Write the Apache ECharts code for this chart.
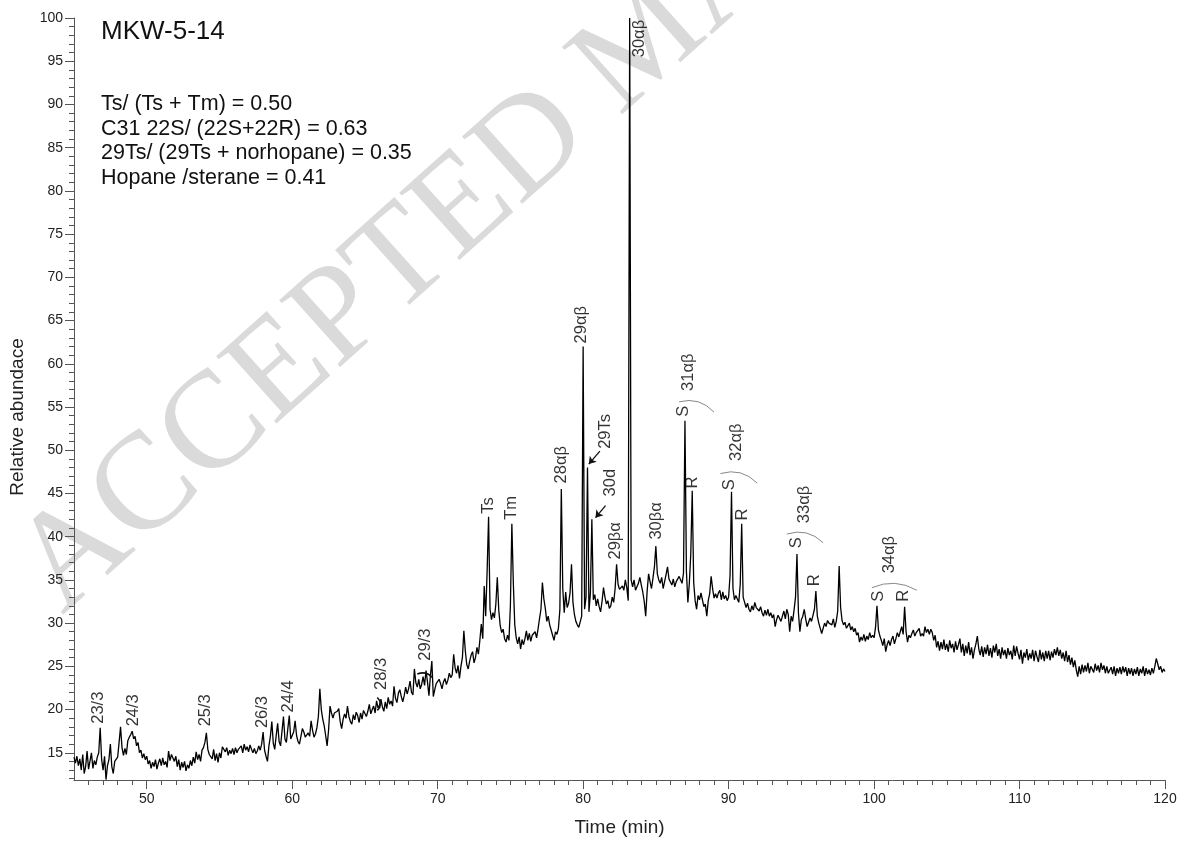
<!DOCTYPE html>
<html><head><meta charset="utf-8">
<script src="https://cdn.jsdelivr.net/npm/echarts@6/dist/echarts.min.js"></script>
<style>html,body{margin:0;padding:0;background:#fff}#c{width:1189px;height:842px}</style>
</head><body><div id="c"></div>
<script>
// Chromatogram sampling: first retention time and step (min)
const startTime = 45.0;
const sampleStep = 0.1;
// Relative abundance, one row per minute (45.0 ... 120.0)
const abundance = [
14.5,13.8,14.6,13.5,14.3,13.0,14.8,12.6,13.4,15.2,
13.1,12.9,15.0,13.2,14.1,13.6,14.5,15.0,17.9,14.2,
13.0,14.6,11.9,13.5,14.2,16.0,13.4,12.6,14.0,13.8,
14.5,16.2,18.0,15.6,14.7,15.5,14.8,16.4,16.8,17.1,
17.5,16.6,16.9,15.8,16.2,15.0,15.3,14.4,14.9,14.2,
14.6,13.7,14.1,13.2,13.9,13.4,14.2,13.1,13.8,14.3,
13.5,14.4,13.6,14.0,13.3,15.2,14.1,14.8,15.0,14.0,
14.6,13.4,14.2,13.0,13.9,13.3,14.0,12.9,13.6,13.2,
14.1,13.5,14.5,13.8,15.1,14.2,14.8,14.0,15.3,15.6,
16.2,17.3,15.4,14.8,15.0,14.3,15.4,14.1,14.9,13.9,
15.0,14.4,15.7,15.9,15.1,15.6,14.7,15.3,14.9,15.5,
14.8,15.6,15.0,15.4,15.2,15.8,15.0,16.0,15.3,15.7,
15.1,15.9,15.4,15.0,15.5,14.9,15.2,15.8,15.3,16.0,
17.4,15.3,14.6,14.0,15.8,16.9,18.6,16.1,15.4,17.0,
18.4,16.3,15.8,17.5,19.2,16.6,16.2,17.8,19.3,16.6,
16.6,17.4,18.7,17.0,16.3,16.0,16.9,17.8,17.4,16.8,
17.0,17.3,16.9,18.7,17.6,16.8,17.2,17.9,19.2,22.4,
20.0,18.9,18.1,17.0,15.8,17.6,20.4,19.6,19.0,19.6,
19.4,19.8,20.1,18.6,17.8,18.9,19.5,19.0,20.4,19.2,
18.6,18.3,19.4,18.8,19.7,19.3,18.5,19.6,18.9,19.9,
20.1,19.2,19.8,20.6,19.5,20.0,20.4,19.6,21.0,20.2,
20.5,21.2,20.3,19.8,20.9,20.1,21.4,20.6,21.0,20.4,
22.7,21.3,20.8,21.9,22.3,21.5,20.9,21.6,22.6,21.8,
22.4,23.3,22.0,21.7,24.7,23.1,22.6,23.5,22.4,22.9,
23.8,22.8,24.5,23.2,21.6,23.9,25.6,21.5,22.3,23.0,
22.8,23.5,23.0,22.4,23.2,23.6,22.9,23.4,24.2,23.7,
24.0,26.4,24.8,24.2,25.1,23.6,25.0,26.0,29.1,26.8,
25.2,24.7,25.6,26.3,26.7,25.4,26.0,27.2,26.4,28.0,
29.9,28.2,34.3,30.8,36.0,42.3,31.6,30.4,31.2,30.6,
32.2,35.3,31.5,29.7,28.9,29.3,28.2,27.8,28.6,28.0,
32.0,41.5,34.7,29.8,28.3,27.6,28.4,27.0,28.1,27.5,
28.2,29.1,28.0,28.8,27.9,28.6,28.5,29.0,28.3,29.3,
30.5,31.6,34.7,32.8,31.7,30.2,30.8,29.8,29.2,28.6,
28.0,29.0,28.7,29.4,31.5,45.5,34.0,31.2,33.6,31.8,
32.3,33.5,36.8,32.4,31.0,30.2,29.8,29.5,29.3,30.8,
62.0,31.6,33.0,48.0,31.3,33.5,42.0,32.7,33.3,32.0,
32.8,31.9,31.3,32.5,34.1,33.0,32.2,32.6,31.7,32.0,
33.0,32.4,34.0,36.8,34.5,33.9,33.7,34.3,33.8,35.0,
34.1,32.6,100.0,35.0,34.2,35.0,33.8,34.0,34.6,35.3,
34.4,33.6,32.5,30.8,33.7,35.7,34.8,34.0,35.2,36.5,
38.9,35.7,35.0,34.6,35.3,34.0,34.8,35.6,36.5,35.1,
34.9,34.4,35.1,34.2,34.8,34.7,35.4,35.3,34.6,35.8,
53.4,36.0,32.4,34.6,38.0,45.3,34.7,32.6,31.6,33.2,
32.7,33.5,32.7,31.9,32.2,30.8,32.6,33.4,35.4,34.0,
32.9,33.4,32.9,33.5,33.8,32.7,33.6,32.8,33.2,32.6,
33.0,35.5,45.2,34.0,32.7,33.2,32.8,32.4,34.5,41.5,
33.0,32.4,31.8,32.3,31.6,31.3,32.0,31.5,32.4,31.8,
32.0,31.4,31.9,31.2,30.8,31.5,30.9,31.6,30.8,31.2,
30.6,31.0,29.6,30.4,30.9,31.0,30.2,30.8,31.4,30.5,
31.6,31.0,29.0,30.8,30.2,31.5,33.0,38.0,31.2,29.0,
30.4,30.8,31.6,30.5,29.6,29.6,30.6,30.2,30.9,31.6,
33.7,30.8,30.0,29.8,28.8,29.4,30.0,29.6,30.3,30.0,
30.2,29.8,30.5,29.5,30.2,31.4,36.6,31.8,30.3,29.8,
30.1,29.4,29.5,30.0,29.2,29.6,29.0,29.4,28.6,28.9,
27.8,28.4,28.0,28.7,27.9,28.5,28.1,28.9,28.3,28.6,
28.3,29.5,32.0,29.2,28.5,28.0,27.4,28.2,26.7,27.5,
28.0,27.4,28.1,28.5,27.6,28.2,28.9,28.4,29.0,29.6,
28.7,31.9,29.0,27.8,28.6,28.3,28.8,29.2,28.5,28.9,
28.9,29.4,28.5,28.8,28.5,29.6,28.9,29.3,28.7,29.3,
28.9,28.0,28.6,27.2,27.9,26.8,27.8,27.0,28.1,26.9,
27.6,26.7,28.0,27.1,27.6,26.6,27.9,26.9,27.5,28.2,
26.6,27.6,26.2,27.4,26.5,27.8,26.3,27.2,25.9,26.9,
27.6,28.5,27.0,26.3,27.3,26.1,27.2,26.4,27.5,26.2,
27.1,26.0,27.4,26.6,27.6,26.2,27.0,25.9,27.2,26.3,
26.9,25.9,27.1,26.3,26.8,25.8,27.4,26.2,27.3,26.5,
25.8,26.9,25.3,26.6,26.0,27.0,25.7,26.5,25.9,26.9,
25.6,26.8,26.1,25.5,26.9,25.8,26.6,25.6,26.8,25.9,
26.8,25.7,26.7,26.0,27.0,26.3,27.2,26.2,26.9,25.9,
26.6,25.6,26.8,25.5,26.3,25.2,26.0,24.9,25.7,24.6,
23.8,25.0,24.1,25.2,24.3,25.1,24.4,25.4,24.2,25.0,
25.2,24.3,25.3,24.5,25.1,24.3,25.4,24.6,25.1,24.2,
25.0,24.2,24.0,24.9,24.1,25.0,23.9,24.8,24.2,24.9,
24.1,25.0,24.3,24.9,23.9,24.8,24.1,24.8,23.9,24.7,
24.1,24.9,23.9,24.7,24.2,25.0,23.9,24.8,24.1,24.6,
24.0,24.8,24.2,25.0,25.9,25.3,24.6,25.0,24.3,24.7,
24.4
];
// Axis ticks
const xTickLabels = [50, 60, 70, 80, 90, 100, 110, 120];
const yTickLabels = [15, 20, 25, 30, 35, 40, 45, 50, 55, 60, 65, 70, 75, 80, 85, 90, 95, 100];
// Peak annotations: text, time, abundance where the text starts
const peakNames = ["23/3","24/3","25/3","26/3","24/4","28/3","29/3","Ts","Tm","28αβ","29αβ","29Ts","30d","29βα","30αβ","30βα","S","31αβ","R","S","32αβ","R","S","33αβ","R","S","34αβ","R"];
const peakTimes = [46.72,49.12,54.1,58.0,59.77,66.2,69.2,73.5,75.13,78.56,79.94,81.54,81.88,82.29,83.94,85.09,86.92,87.26,87.53,90.12,90.58,90.99,94.7,95.27,95.96,100.31,101.11,102.03];
const peakLevels = [18.3,18.0,18.0,17.8,19.6,22.2,25.6,42.6,41.9,46.1,62.3,50.1,44.6,37.3,95.4,39.6,53.8,56.8,45.5,45.3,48.7,41.8,38.6,41.5,34.2,32.4,35.7,32.4];
// Arrows [fromTime, fromValue, toTime, toValue]
const arrowLinks = [[81.15,49.9,80.39,48.4],[81.54,43.6,80.85,42.2]];
// S/R bracket arcs [t1, v1, t2, v2, curveness]
const grayArcs = [[86.6,55.6,89.0,54.4,0.3],[89.44,47.3,91.96,46.2,0.3],[94.0,40.3,96.5,39.3,0.3],[99.85,34.1,102.94,33.8,0.25]];
const blackArcs = [[65.85,21.4,65.85,19.9,0.5],[68.6,24.1,69.64,23.7,0.35]];
const sampleName = "MKW-5-14";
const ratioLines = ["Ts/ (Ts + Tm) = 0.50","C31 22S/ (22S+22R) = 0.63","29Ts/ (29Ts + norhopane) = 0.35","Hopane /sterane = 0.41"];

const FONT = '"Liberation Sans", Arial, sans-serif';
const trace = abundance.map((v, i) => [+(startTime + i * sampleStep).toFixed(2), v]);
const xMinor = []; for (let t = 46; t < 120; t++) if (t % 10) xMinor.push(t);
const yMinor = []; for (let t = 12; t < 100; t++) if (t % 5) yMinor.push(t);

const chart = echarts.init(document.getElementById('c'), null, {renderer: 'canvas'});
const axisGray = '#555';
const baseX = {type: 'value', min: 45, max: 120, position: 'bottom', splitLine: {show: false}};
const baseY = {type: 'value', min: 11.85, max: 100, position: 'left', splitLine: {show: false}};
chart.setOption({
  animation: false,
  backgroundColor: '#fff',
  grid: {left: 74, right: 24, top: 18, bottom: 61, containLabel: false},
  xAxis: [
    Object.assign({}, baseX, {
      name: 'Time (min)', nameLocation: 'middle', nameGap: 38,
      nameTextStyle: {fontFamily: FONT, fontSize: 19, color: '#222'},
      axisLine: {show: true, lineStyle: {color: axisGray, width: 1}},
      axisTick: {show: true, customValues: xTickLabels, length: 9, lineStyle: {color: axisGray}},
      axisLabel: {customValues: xTickLabels, fontFamily: FONT, fontSize: 14, color: '#222', margin: 12}
    }),
    Object.assign({}, baseX, {
      axisLine: {show: false},
      axisTick: {show: true, customValues: xMinor, length: 5, lineStyle: {color: axisGray}},
      axisLabel: {show: false}
    })
  ],
  yAxis: [
    Object.assign({}, baseY, {
      name: 'Relative abundace', nameLocation: 'middle', nameGap: 47, nameRotate: 90,
      nameTextStyle: {fontFamily: FONT, fontSize: 19, color: '#222', padding: [0, 36, 0, 0]},
      axisLine: {show: true, lineStyle: {color: axisGray, width: 1}},
      axisTick: {show: true, customValues: yTickLabels, length: 9, lineStyle: {color: axisGray}},
      axisLabel: {customValues: yTickLabels, fontFamily: FONT, fontSize: 14, color: '#222', margin: 11}
    }),
    Object.assign({}, baseY, {
      axisLine: {show: false},
      axisTick: {show: true, customValues: yMinor, length: 5, lineStyle: {color: axisGray}},
      axisLabel: {show: false}
    })
  ],
  graphic: [
    {type: 'text', x: 84, y: 640, rotation: 0.73, z: 0, silent: true,
     style: {text: 'ACCEPTED MANUSCRIPT', font: '138px "Liberation Serif", serif', fill: '#dadada',
             textAlign: 'left', textVerticalAlign: 'bottom'}},
    {type: 'text', x: 101, y: 32, z: 10, silent: true,
     style: {text: sampleName, font: '26px ' + FONT, fill: '#111', textVerticalAlign: 'middle'}},
    ...ratioLines.map((s, i) => ({type: 'text', x: 101, y: 104 + i * 24.7, z: 10, silent: true,
      style: {text: s, font: '21.5px ' + FONT, fill: '#111', textVerticalAlign: 'middle'}}))
  ],
  series: [
    {type: 'line', data: trace, showSymbol: false, symbol: 'none', sampling: null, z: 5,
     lineStyle: {color: '#000', width: 1.3}, silent: true, clip: true},
    {type: 'scatter', z: 6, silent: true, symbolSize: 1, itemStyle: {color: 'rgba(0,0,0,0)'},
     data: peakNames.map((n, i) => ({name: n, value: [peakTimes[i], peakLevels[i]]})),
     label: {show: true, formatter: '{b}', position: [0, 0], rotate: 90, align: 'left', verticalAlign: 'middle',
             fontFamily: FONT, fontSize: 16.5, color: '#000'}},
    {type: 'lines', coordinateSystem: 'cartesian2d', z: 6, silent: true,
     symbol: ['none', 'arrow'], symbolSize: 7,
     lineStyle: {color: '#111', width: 1.3, opacity: 1},
     data: arrowLinks.map(a => ({coords: [[a[0], a[1]], [a[2], a[3]]]}))},
    {type: 'lines', coordinateSystem: 'cartesian2d', z: 6, silent: true, symbol: 'none',
     lineStyle: {color: '#888', width: 1, opacity: 1},
     data: grayArcs.map(a => ({coords: [[a[0], a[1]], [a[2], a[3]]], lineStyle: {curveness: a[4]}}))},
    {type: 'lines', coordinateSystem: 'cartesian2d', z: 6, silent: true, symbol: 'none',
     lineStyle: {color: '#111', width: 1.6, opacity: 1},
     data: blackArcs.map(a => ({coords: [[a[0], a[1]], [a[2], a[3]]], lineStyle: {curveness: a[4]}}))}
  ]
});
</script></body></html>
